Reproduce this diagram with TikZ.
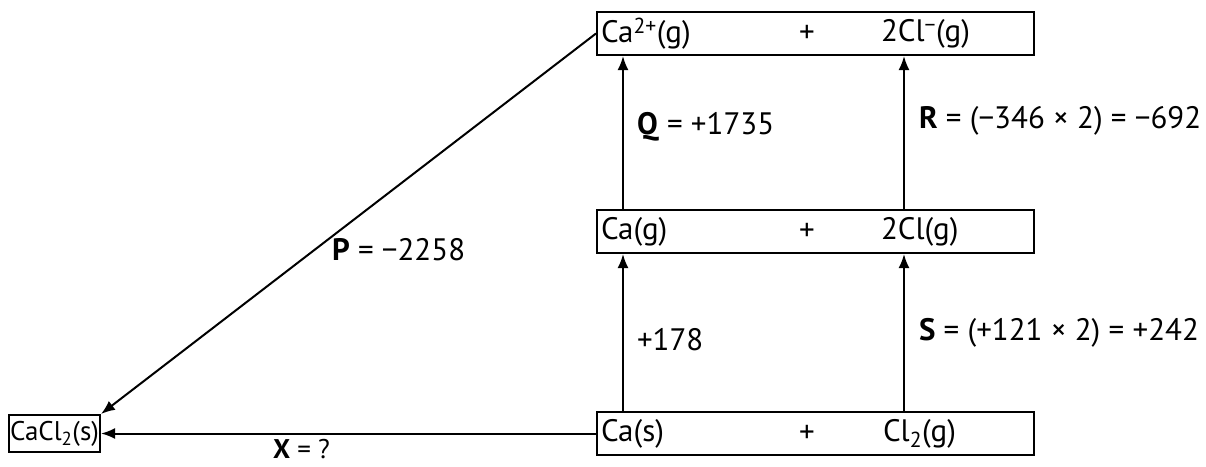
\documentclass[tikz,border=0pt]{standalone}
\usepackage{fontspec}
\setmainfont{PT Sans}
\usepackage{tikz}
\usetikzlibrary{positioning}
\usetikzlibrary{arrows.meta}

\begin{document}
\begin{tikzpicture}[
    x=1pt, y=-1pt,
    box/.style={draw, rectangle, minimum width=437pt, minimum height=43pt,
                inner sep=0pt},
    saltbox/.style={draw, rectangle, minimum width=91pt, minimum height=37pt,
                inner sep=0pt, font=\fontsize{27}{32}\selectfont},
    species/.style={anchor=west, inner sep=0pt},
    plus/.style={inner sep=0pt},
    lbl/.style={anchor=west, inner sep=0pt},
    >={Latex[length=14pt,width=11pt]},
    line width=2pt,
    font=\fontsize{31}{36}\selectfont
  ]
    \useasboundingbox (0,0) rectangle (1206,466);

    % Niveaux du cycle
    \node[box] (ions) at (815.5,33.5) {};
    \node[box] (atoms) at (815.5,231.5) {};
    \node[box] (elements) at (815.5,433.5) {};
    \node[saltbox] (salt) at (54.5,433.5) {CaCl\textsubscript{2}(s)};

    % Espèces dans les boîtes
    \node[species] (caion) at (600,33.5) {Ca\textsuperscript{2+}(g)};
    \node[plus] (plusions) at (807,33.5) {+};
    \node[species] (clion) at (880,33.5) {2Cl\textsuperscript{−}(g)};

    \node[species] (caatom) at (600,231.5) {Ca(g)};
    \node[plus] (plusatoms) at (807,231.5) {+};
    \node[species] (clatom) at (880,231.5) {2Cl(g)};

    \node[species] (casolid) at (600,433.5) {Ca(s)};
    \node[plus] (pluselements) at (807,433.5) {+};
    \node[species] (clgas) at (882,433.5) {Cl\textsubscript{2}(g)};

    % Étiquettes des étapes
    \node[lbl] (qlabel) at (636,127) {\textbf{Q} = +1735};
    \node[lbl] (rlabel) at (918,121) {\textbf{R} = (−346 × 2) = −692};
    \node[lbl] (plabel) at (331,250) {\textbf{P} = −2258};
    \node[lbl] (calabel) at (636,340) {+178};
    \node[lbl] (slabel) at (918,333) {\textbf{S} = (+121 × 2) = +242};
    \node[lbl, anchor=south west, font=\fontsize{27}{32}\selectfont]
      (xlabel) at (272,460) {\textbf{X} = ?};

    % Flèches verticales
    \draw[->] (elements.north -| 623,0) -- (atoms.south -| 623,0);
    \draw[->] (elements.north -| 904,0) -- (atoms.south -| 904,0);
    \draw[->] (atoms.north -| 623,0) -- (ions.south -| 623,0);
    \draw[->] (atoms.north -| 904,0) -- (ions.south -| 904,0);

    % Réseau et formation
    \draw[->] (ions.west) -- (salt.north east);
    \draw[->] (elements.west) -- (salt.east);

  \end{tikzpicture}
\end{document}
